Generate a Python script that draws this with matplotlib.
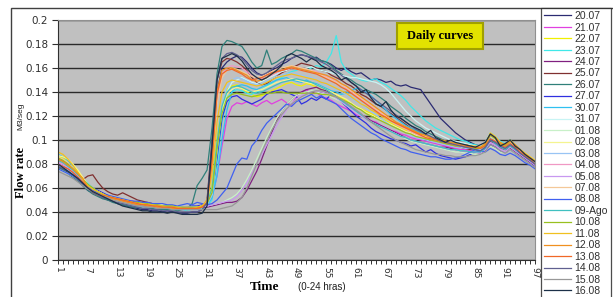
import matplotlib
matplotlib.use("Agg")
import matplotlib.pyplot as plt
import numpy as np
from matplotlib.patches import Rectangle

# Flow rate per 15-min step (97 steps, 0-24 h), in thousandths of m3/s
labels = ["20.07", "21.07", "22.07", "23.07", "24.07", "25.07", "26.07", "27.07",
          "30.07", "31.07", "01.08", "02.08", "03.08", "04.08", "05.08", "07.08",
          "08.08", "09-Ago", "10.08", "11.08", "12.08", "13.08", "14.08", "15.08",
          "16.08"]

colors = ["#2b2b72", "#e040e0", "#f0f000", "#40e8e8", "#802080", "#803030",
          "#30807a", "#3030e0", "#30c0f0", "#c8f4f4", "#c8f0c8", "#f4f490",
          "#98c4f4", "#f098c4", "#c898f0", "#f4c898", "#4060f0", "#40c0c0",
          "#98c020", "#f0c020", "#f09020", "#f06828", "#606090", "#989898",
          "#1c3048"]

d2007 = [78, 76, 73, 70, 66, 62, 58, 56, 54, 52,
         50, 49, 47, 46, 45, 44, 43, 42, 42, 41,
         41, 40, 41, 40, 40, 39, 39, 40, 40, 42,
         48, 90, 140, 160, 165, 168, 170, 169, 165, 160,
         156, 154, 155, 158, 160, 163, 165, 168, 170, 171,
         170, 168, 169, 166, 165, 163, 160, 158, 160, 157,
         155, 156, 153, 150, 151, 150, 148, 149, 146, 145,
         146, 144, 143, 142, 136, 130, 124, 118, 114, 110,
         106, 103, 100, 98, 96, 95, 97, 102, 99, 96,
         95, 98, 94, 90, 86, 83, 80]
d2107 = [82, 80, 77, 73, 69, 65, 61, 58, 56, 54,
         52, 51, 50, 48, 47, 46, 45, 45, 44, 44,
         43, 43, 42, 43, 42, 42, 41, 42, 42, 43,
         46, 52, 70, 95, 118, 128, 131, 130, 132, 130,
         128, 131, 133, 130, 132, 134, 131, 129, 136, 140,
         142, 138, 140, 136, 135, 133, 130, 128, 126, 124,
         121, 120, 118, 116, 115, 112, 110, 108, 107, 105,
         104, 102, 101, 100, 99, 98, 97, 96, 95, 94,
         93, 92, 92, 91, 90, 90, 92, 98, 96, 93,
         92, 94, 91, 88, 85, 82, 79]
d2207 = [86, 85, 83, 79, 74, 68, 63, 60, 57, 55,
         53, 52, 50, 49, 48, 47, 46, 46, 45, 45,
         44, 44, 43, 44, 43, 43, 42, 42, 43, 44,
         47, 62, 100, 130, 142, 145, 146, 143, 140, 138,
         136, 137, 139, 141, 143, 145, 147, 148, 146, 145,
         147, 146, 144, 142, 143, 140, 138, 135, 133, 130,
         128, 126, 124, 122, 120, 118, 116, 114, 112, 110,
         108, 107, 105, 104, 102, 101, 100, 99, 98, 97,
         96, 95, 94, 94, 93, 92, 95, 103, 100, 96,
         94, 97, 95, 91, 88, 85, 82]
d2307 = [84, 82, 80, 76, 72, 68, 64, 60, 57, 55,
         53, 51, 50, 48, 47, 46, 45, 45, 44, 44,
         43, 43, 43, 42, 42, 42, 41, 42, 42, 43,
         45, 50, 80, 115, 135, 140, 142, 141, 139, 138,
         140, 142, 145, 147, 150, 152, 155, 157, 158, 160,
         158, 160, 162, 161, 165, 172, 187, 165, 158, 155,
         152, 150, 149, 150, 151, 148, 146, 143, 140, 137,
         133, 128, 124, 120, 116, 113, 110, 108, 106, 104,
         102, 100, 99, 97, 96, 95, 98, 106, 103, 99,
         97, 100, 96, 92, 88, 85, 82]
d2407 = [80, 78, 75, 72, 68, 64, 60, 58, 56, 54,
         52, 51, 50, 49, 48, 47, 46, 46, 45, 45,
         45, 44, 44, 44, 43, 43, 43, 43, 43, 44,
         44, 45, 46, 47, 48, 48, 49, 52, 58, 66,
         74, 84, 95, 106, 116, 124, 130, 134, 137, 140,
         142, 143, 144, 142, 141, 139, 136, 133, 130, 127,
         124, 121, 119, 116, 114, 112, 110, 108, 106, 104,
         102, 100, 99, 98, 97, 96, 95, 94, 94, 93,
         92, 91, 91, 90, 90, 89, 91, 96, 94, 91,
         90, 93, 90, 87, 84, 81, 78]
d2507 = [84, 82, 79, 75, 71, 67, 70, 71, 65, 60,
         57, 55, 54, 56, 54, 52, 50, 49, 48, 47,
         46, 45, 45, 44, 44, 43, 43, 43, 43, 44,
         50, 100, 150, 165, 168, 167, 165, 162, 158, 152,
         148, 146, 147, 150, 153, 156, 158, 160, 162, 164,
         163, 162, 160, 158, 157, 154, 152, 150, 147, 145,
         142, 138, 136, 133, 130, 128, 125, 122, 119, 116,
         113, 110, 108, 106, 104, 102, 100, 99, 97, 96,
         95, 94, 93, 92, 92, 91, 93, 99, 97, 94,
         92, 95, 92, 89, 86, 83, 80]
d2607 = [77, 75, 72, 69, 66, 62, 58, 55, 53, 51,
         50, 48, 47, 46, 45, 44, 44, 43, 43, 43,
         42, 42, 42, 42, 41, 42, 43, 47, 62, 68,
         75, 110, 155, 178, 183, 182, 180, 178, 172, 165,
         160, 162, 175, 163, 165, 168, 170, 172, 175, 174,
         172, 170, 168, 166, 165, 162, 158, 155, 152, 150,
         147, 145, 142, 140, 138, 135, 132, 128, 125, 122,
         118, 115, 112, 110, 107, 105, 103, 101, 99, 98,
         97, 96, 95, 94, 93, 93, 96, 105, 101, 96,
         94, 98, 95, 91, 87, 84, 81]
d2707 = [80, 78, 76, 73, 69, 65, 62, 60, 58, 56,
         54, 52, 51, 50, 49, 49, 48, 47, 47, 46,
         46, 45, 45, 45, 44, 44, 44, 45, 45, 46,
         48, 56, 85, 118, 132, 136, 137, 134, 132, 130,
         132, 134, 138, 140, 141, 142, 140, 138, 136, 130,
         132, 135, 133, 136, 134, 138, 136, 132, 128, 124,
         120, 117, 114, 110, 107, 105, 103, 101, 100, 98,
         97, 95, 96, 93, 90, 92, 89, 87, 86, 85,
         84, 85, 86, 88, 90, 91, 92, 96, 94, 91,
         89, 92, 89, 86, 83, 80, 78]
d3007 = [88, 86, 83, 78, 72, 66, 61, 58, 56, 54,
         52, 51, 50, 49, 48, 47, 47, 46, 46, 45,
         45, 45, 44, 44, 44, 43, 43, 43, 44, 44,
         46, 52, 70, 100, 125, 140, 145, 146, 145, 143,
         142, 144, 146, 148, 150, 151, 152, 150, 149, 148,
         150, 148, 147, 145, 143, 141, 140, 138, 139, 141,
         143, 142, 140, 137, 133, 129, 125, 121, 118, 115,
         112, 110, 108, 106, 104, 102, 100, 99, 98, 97,
         96, 95, 94, 93, 93, 92, 95, 104, 101, 97,
         95, 98, 95, 91, 88, 85, 82]
d3107 = [83, 81, 78, 75, 71, 67, 63, 60, 57, 55,
         53, 52, 51, 50, 49, 48, 47, 47, 46, 46,
         45, 45, 45, 44, 44, 44, 43, 43, 44, 45,
         47, 55, 90, 125, 140, 148, 150, 152, 150, 148,
         147, 149, 151, 153, 155, 157, 158, 160, 159, 158,
         160, 161, 159, 158, 157, 156, 155, 154, 153, 152,
         152, 151, 150, 149, 148, 146, 143, 139, 134, 129,
         124, 120, 116, 113, 110, 108, 106, 104, 102, 100,
         99, 98, 97, 96, 95, 95, 98, 106, 103, 98,
         96, 99, 96, 92, 88, 85, 82]
d0108 = [76, 74, 72, 70, 67, 64, 61, 58, 56, 54,
         52, 51, 50, 49, 48, 47, 47, 46, 46, 45,
         45, 45, 44, 44, 44, 43, 43, 44, 44, 45,
         45, 46, 47, 48, 50, 52, 55, 60, 67, 75,
         84, 93, 102, 110, 118, 124, 130, 134, 137, 139,
         140, 141, 140, 139, 138, 136, 134, 132, 129, 126,
         123, 120, 118, 115, 113, 111, 109, 107, 105, 103,
         101, 99, 98, 97, 96, 95, 94, 93, 92, 91,
         90, 90, 89, 89, 88, 88, 90, 95, 93, 90,
         89, 92, 89, 86, 83, 80, 77]
d0208 = [87, 86, 84, 80, 75, 69, 63, 59, 57, 55,
         53, 52, 51, 50, 49, 48, 48, 47, 47, 46,
         46, 46, 45, 45, 45, 44, 44, 44, 44, 45,
         47, 58, 95, 125, 138, 142, 144, 143, 141, 140,
         141, 142, 144, 146, 148, 149, 150, 151, 150, 149,
         148, 147, 146, 144, 142, 140, 138, 136, 134, 131,
         128, 126, 123, 121, 119, 117, 115, 113, 111, 109,
         107, 106, 104, 103, 102, 101, 100, 99, 98, 97,
         96, 96, 95, 94, 94, 93, 96, 103, 100, 97,
         95, 98, 95, 92, 89, 86, 83]
d0308 = [79, 77, 75, 72, 68, 64, 61, 58, 56, 54,
         52, 51, 50, 49, 48, 47, 47, 46, 46, 45,
         45, 44, 44, 44, 43, 43, 43, 43, 44, 44,
         46, 54, 92, 130, 145, 150, 152, 151, 149, 147,
         146, 147, 149, 151, 153, 154, 155, 156, 155, 154,
         153, 152, 150, 148, 146, 144, 142, 140, 138, 135,
         132, 130, 127, 124, 121, 118, 115, 112, 110, 108,
         106, 104, 102, 101, 100, 99, 98, 97, 96, 95,
         94, 94, 93, 93, 92, 92, 95, 102, 99, 96,
         94, 97, 94, 90, 87, 84, 81]
d0408 = [82, 80, 77, 74, 70, 66, 62, 59, 57, 55,
         53, 52, 51, 49, 48, 47, 46, 46, 45, 45,
         44, 44, 44, 43, 43, 43, 42, 42, 43, 44,
         48, 80, 135, 155, 160, 162, 161, 160, 157, 154,
         152, 151, 152, 154, 156, 158, 159, 160, 161, 160,
         159, 158, 157, 155, 153, 151, 149, 146, 143, 140,
         137, 134, 131, 128, 125, 122, 119, 116, 113, 111,
         109, 107, 105, 103, 102, 100, 99, 98, 97, 96,
         95, 95, 94, 94, 93, 93, 96, 104, 101, 97,
         95, 99, 96, 92, 88, 85, 82]
d0508 = [81, 79, 77, 74, 70, 66, 62, 59, 57, 55,
         53, 52, 51, 50, 49, 48, 48, 47, 47, 46,
         46, 45, 45, 45, 44, 44, 44, 44, 44, 45,
         45, 46, 47, 48, 49, 50, 53, 58, 64, 72,
         80, 88, 96, 104, 112, 119, 125, 130, 134, 137,
         139, 140, 141, 140, 139, 137, 135, 132, 129, 126,
         123, 120, 117, 115, 113, 111, 109, 107, 105, 103,
         102, 100, 99, 98, 97, 96, 95, 94, 93, 92,
         92, 91, 91, 90, 90, 89, 92, 98, 96, 92,
         90, 94, 91, 88, 85, 82, 79]
d0708 = [86, 84, 81, 77, 72, 67, 63, 60, 57, 55,
         53, 52, 51, 50, 49, 48, 47, 47, 46, 46,
         45, 45, 44, 44, 44, 43, 43, 43, 44, 45,
         49, 75, 130, 152, 158, 160, 159, 157, 155, 153,
         152, 153, 155, 157, 159, 160, 161, 162, 161, 160,
         159, 158, 156, 154, 152, 150, 148, 146, 144, 141,
         138, 135, 132, 129, 126, 123, 120, 117, 114, 112,
         110, 108, 106, 104, 103, 101, 100, 99, 98, 97,
         96, 95, 95, 94, 94, 93, 96, 104, 101, 97,
         95, 98, 95, 91, 88, 85, 82]
d0808 = [76, 74, 72, 70, 67, 64, 61, 58, 56, 55,
         54, 53, 52, 51, 50, 49, 49, 48, 48, 47,
         47, 47, 46, 46, 45, 46, 47, 46, 48, 47,
         46, 47, 50, 55, 60, 70, 80, 85, 84, 95,
         100, 108, 114, 118, 122, 126, 130, 128, 132, 134,
         136, 138, 135, 137, 134, 132, 130, 126, 122, 118,
         115, 112, 109, 106, 104, 101, 99, 97, 95, 93,
         92, 90, 89, 88, 87, 86, 86, 85, 84, 84,
         85, 86, 88, 90, 92, 91, 90, 93, 91, 88,
         87, 89, 87, 84, 81, 79, 76]
d0908 = [83, 81, 78, 75, 71, 67, 63, 60, 57, 55,
         53, 52, 51, 50, 49, 48, 47, 47, 46, 46,
         45, 45, 45, 44, 44, 44, 43, 44, 44, 45,
         47, 60, 98, 128, 140, 144, 145, 144, 142, 140,
         139, 140, 142, 144, 146, 148, 149, 150, 151, 150,
         149, 148, 146, 144, 142, 139, 136, 133, 130, 127,
         124, 121, 118, 115, 113, 111, 109, 107, 105, 103,
         102, 100, 99, 98, 97, 96, 95, 94, 93, 92,
         92, 91, 91, 90, 90, 90, 93, 100, 97, 94,
         92, 95, 92, 89, 86, 83, 80]
d1008 = [85, 83, 80, 76, 72, 67, 63, 60, 57, 55,
         53, 52, 51, 50, 49, 48, 48, 47, 47, 46,
         46, 45, 45, 45, 44, 44, 44, 44, 44, 45,
         47, 56, 92, 122, 135, 138, 139, 138, 137, 136,
         137, 138, 139, 139, 140, 140, 139, 139, 139, 139,
         139, 139, 139, 138, 138, 137, 136, 134, 132, 130,
         127, 125, 122, 120, 118, 116, 114, 112, 110, 108,
         106, 105, 103, 102, 101, 100, 99, 98, 97, 96,
         95, 95, 94, 94, 93, 93, 96, 104, 101, 97,
         95, 99, 96, 92, 88, 85, 82]
d1108 = [90, 88, 84, 79, 73, 67, 62, 59, 57, 55,
         53, 52, 51, 50, 49, 48, 47, 47, 46, 46,
         45, 45, 44, 44, 44, 43, 43, 43, 44, 45,
         50, 72, 115, 140, 148, 150, 149, 148, 147, 146,
         145, 146, 148, 150, 152, 153, 154, 155, 154, 153,
         152, 151, 150, 148, 147, 145, 143, 141, 139, 136,
         133, 130, 128, 125, 123, 120, 118, 116, 114, 112,
         110, 108, 106, 105, 104, 102, 101, 100, 99, 98,
         97, 96, 96, 95, 95, 94, 97, 106, 103, 98,
         96, 100, 96, 92, 89, 86, 83]
d1208 = [84, 82, 79, 76, 72, 68, 60, 56, 54, 53,
         52, 51, 50, 49, 48, 47, 46, 46, 45, 45,
         44, 44, 44, 43, 43, 43, 42, 43, 43, 44,
         48, 85, 140, 158, 160, 160, 158, 156, 154, 150,
         149, 150, 152, 155, 157, 158, 160, 161, 160, 159,
         158, 157, 156, 155, 154, 152, 150, 147, 145, 142,
         139, 136, 133, 130, 127, 124, 121, 118, 115, 113,
         111, 109, 107, 105, 104, 102, 101, 100, 99, 98,
         97, 96, 96, 95, 94, 94, 97, 105, 102, 98,
         96, 99, 96, 92, 88, 85, 82]
d1308 = [80, 78, 76, 73, 69, 65, 60, 57, 55, 54,
         53, 52, 51, 50, 49, 48, 47, 46, 46, 45,
         45, 44, 44, 44, 43, 43, 43, 43, 43, 44,
         47, 82, 138, 155, 158, 159, 157, 155, 152, 150,
         151, 152, 154, 156, 157, 158, 159, 160, 159, 158,
         157, 156, 155, 153, 151, 149, 147, 144, 142, 139,
         136, 133, 130, 127, 124, 121, 119, 116, 114, 112,
         110, 108, 106, 104, 102, 101, 100, 99, 98, 97,
         96, 95, 95, 94, 94, 93, 95, 101, 99, 96,
         94, 97, 94, 90, 87, 84, 80]
d1408 = [78, 76, 74, 71, 67, 63, 59, 56, 54, 52,
         51, 49, 48, 47, 46, 45, 44, 43, 43, 42,
         42, 41, 41, 41, 40, 40, 40, 40, 40, 42,
         48, 98, 150, 168, 172, 173, 171, 168, 163, 158,
         155, 154, 156, 159, 162, 165, 167, 168, 170, 171,
         170, 169, 167, 165, 163, 160, 157, 154, 151, 148,
         145, 142, 139, 136, 133, 130, 127, 124, 121, 118,
         115, 112, 109, 107, 105, 103, 101, 99, 98, 97,
         96, 95, 94, 93, 92, 91, 94, 100, 98, 95,
         93, 96, 93, 89, 86, 83, 80]
d1508 = [74, 72, 70, 68, 65, 62, 59, 57, 55, 53,
         52, 50, 49, 48, 47, 46, 45, 45, 44, 44,
         43, 43, 43, 42, 42, 42, 42, 42, 42, 42,
         42, 42, 42, 43, 44, 45, 48, 52, 60, 70,
         80, 90, 99, 108, 115, 121, 126, 130, 133, 136,
         138, 140, 141, 141, 140, 138, 136, 134, 131, 128,
         125, 122, 118, 115, 112, 109, 106, 103, 100, 98,
         96, 94, 92, 91, 90, 89, 88, 88, 87, 87,
         86, 86, 86, 87, 87, 88, 90, 96, 94, 91,
         89, 92, 89, 86, 83, 80, 77]
d1608 = [80, 77, 74, 71, 68, 64, 60, 57, 55, 53,
         51, 49, 47, 45, 44, 43, 42, 41, 41, 40,
         40, 40, 39, 40, 39, 38, 38, 38, 38, 39,
         45, 95, 150, 168, 170, 172, 170, 166, 160, 155,
         152, 150, 152, 155, 158, 162, 170, 172, 170, 168,
         165, 168, 166, 162, 160, 158, 155, 150, 152, 148,
         145, 140, 142, 135, 130, 128, 132, 125, 120, 118,
         115, 112, 110, 108, 105, 108, 102, 100, 98, 100,
         98, 97, 96, 95, 94, 96, 98, 105, 102, 95,
         97, 100, 95, 92, 88, 85, 82]

series = [d2007, d2107, d2207, d2307, d2407, d2507, d2607, d2707, d3007, d3107,
          d0108, d0208, d0308, d0408, d0508, d0708, d0808, d0908, d1008, d1108,
          d1208, d1308, d1408, d1508, d1608]

steps = np.arange(1, 98)

W, H = 613, 297
fig = plt.figure(figsize=(W / 100, H / 100), dpi=100)
fig.patch.set_facecolor("white")

# outer chart frame
fig.add_artist(Rectangle((11 / W, -0.05), 1.0, 1 - 8 / H + 0.05,
                         transform=fig.transFigure, fill=False,
                         edgecolor="#404040", linewidth=1.0))

ax = fig.add_axes([58 / W, 1 - 260 / H, (535 - 58) / W, 240 / H])
ax.set_facecolor("#c0c0c0")

for vals, lab, col in zip(series, labels, colors):
    ax.plot(steps, np.array(vals) / 1000, color=col, linewidth=0.9, label=lab)

ax.set_xlim(1, 97)
ax.set_ylim(0, 0.2)
ax.set_yticks(np.arange(0, 0.201, 0.02))
ax.set_yticklabels(["0", "0.02", "0.04", "0.06", "0.08", "0.1", "0.12",
                    "0.14", "0.16", "0.18", "0.2"])
ax.yaxis.grid(True, color="#2a2a2a", linewidth=1.0)
ax.set_axisbelow(True)
ax.set_xticks(np.arange(1, 98, 6))
ax.set_xticklabels([str(i) for i in range(1, 98, 6)], rotation=270)
ax.set_xticks(steps, minor=True)
ax.tick_params(axis="x", which="both", direction="out", length=3, width=0.7,
               colors="#303030", labelsize=6.5, pad=2)
ax.tick_params(axis="y", direction="out", length=4, width=0.8,
               colors="#303030", labelsize=7.5, pad=3)
for side in ["top", "right"]:
    ax.spines[side].set_color("#909090")
ax.spines["left"].set_color("#303030")
ax.spines["bottom"].set_color("#303030")

# axis titles
fig.text(21 / W, 1 - 172 / H, "Flow rate", rotation=90, ha="center", va="center",
         family="Liberation Serif", fontweight="bold", fontsize=9)
fig.text(21 / W, 1 - 116 / H, "M3/seg", rotation=90, ha="center", va="center",
         family="Liberation Sans", fontsize=6, color="#202020")
fig.text(265 / W, 1 - 287 / H, "Time", ha="center", va="center",
         family="Liberation Serif", fontweight="bold", fontsize=9.5)
fig.text(322 / W, 1 - 287 / H, "(0-24 hras)", ha="center", va="center",
         family="Liberation Sans", fontsize=7, color="#202020")

# "Daily curves" box
fig.add_artist(Rectangle((397 / W, 1 - 49 / H), 86 / W, 26 / H,
                         transform=fig.transFigure, facecolor="#e2e200",
                         edgecolor="#a0a000", linewidth=1.5))
fig.text(440 / W, 1 - 36 / H, "Daily curves", ha="center", va="center",
         family="Liberation Serif", fontweight="bold", fontsize=9)

leg = fig.legend(loc="upper left", bbox_to_anchor=(541 / W, 1 - 8 / H),
                 fontsize=7.5, frameon=True, fancybox=False, handlelength=2.6,
                 handletextpad=0.3, labelspacing=0.14, borderpad=0.3,
                 borderaxespad=0)
leg.get_frame().set_edgecolor("#202020")
leg.get_frame().set_linewidth(0.9)
for t in leg.get_texts():
    t.set_color("#303030")
    t.set_family("Liberation Sans")

fig.savefig("out.png", dpi=100)
